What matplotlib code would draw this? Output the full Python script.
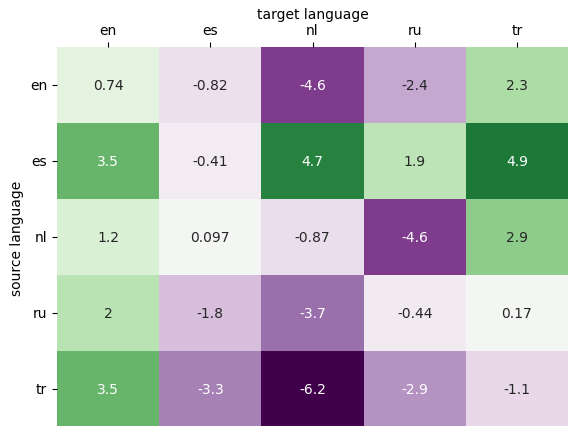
import matplotlib
matplotlib.use("Agg")
import matplotlib.pyplot as plt
import seaborn as sns
import numpy as np

langs = ["en", "es", "nl", "ru", "tr"]

# rows = source language, cols = target language
row_en = [0.74, -0.82, -4.6, -2.4, 2.3]
row_es = [3.5, -0.41, 4.7, 1.9, 4.9]
row_nl = [1.2, 0.097, -0.87, -4.6, 2.9]
row_ru = [2, -1.8, -3.7, -0.44, 0.17]
row_tr = [3.5, -3.3, -6.2, -2.9, -1.1]

data = np.array([row_en, row_es, row_nl, row_ru, row_tr])

fig = plt.figure(figsize=(5.68, 4.27), dpi=100)
ax = fig.add_axes([57 / 568, -1 / 427, 511 / 568, 380 / 427])

sns.heatmap(data, ax=ax, cmap="PRGn", center=0, annot=True, cbar=False,
            xticklabels=langs, yticklabels=langs)

ax.xaxis.tick_top()
ax.xaxis.set_label_position("top")
ax.set_xlabel("target language")
ax.set_ylabel("source language")
ax.tick_params(axis="y", rotation=0)
ax.tick_params(axis="x", rotation=0)

fig.savefig("out.png", dpi=100)
